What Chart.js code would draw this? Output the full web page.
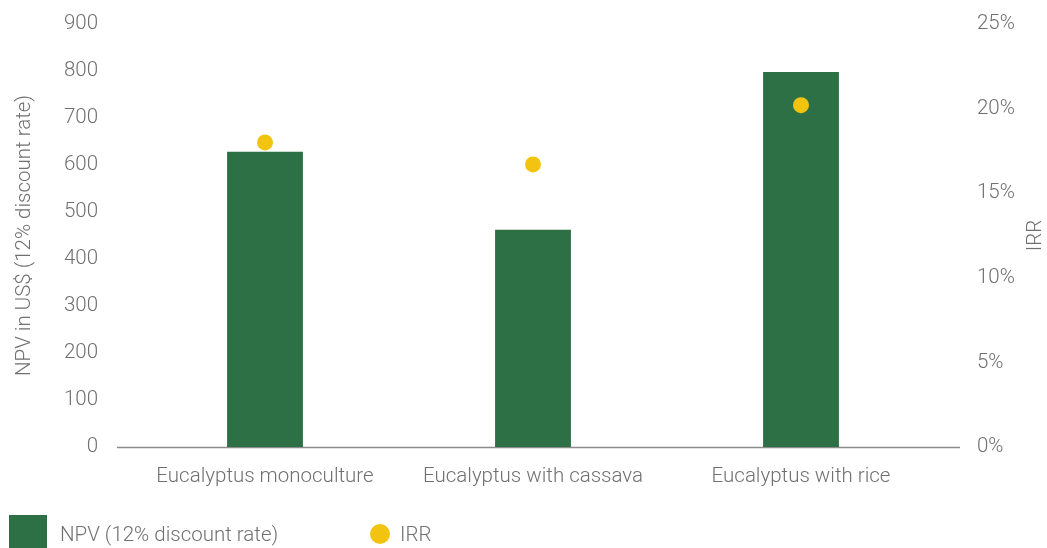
<!DOCTYPE html>
<html>
<head>
<meta charset="utf-8">
<script src="https://cdn.jsdelivr.net/npm/chart.js@4"></script>
<style>
    html, body { margin: 0; padding: 0; background: #fff; }
    #wrap { position: relative; width: 1047px; height: 548px; overflow: hidden; font-family: Roboto, "Open Sans", sans-serif; font-weight: 300; }
    #legend { position: absolute; left: 0; top: 514px; width: 1047px; height: 40px; color: #707070; font-size: 20.5px; }
    .lg-item { position: absolute; top: 0; height: 40px; display: flex; align-items: center; }
    .lg-rect { width: 38px; height: 38px; margin-right: 13px; }
    .lg-dot { width: 20px; height: 20px; border-radius: 50%; margin-right: 10px; }
</style>
</head>
<body>
<div id="wrap">
    <canvas id="chart" width="1047" height="548"></canvas>
    <div id="legend"></div>
</div>
<script>
const categories = ['Eucalyptus monoculture', 'Eucalyptus with cassava', 'Eucalyptus with rice'];
const npvValues = [628, 462, 798];
const irrValues = [18.0, 16.7, 20.2];
const npvTicks = [0, 100, 200, 300, 400, 500, 600, 700, 800, 900];
const irrTicks = [0, 5, 10, 15, 20, 25];

const npvLabel = 'NPV (12% discount rate)';
const irrLabel = 'IRR';
const leftTitle = 'NPV in US$ (12% discount rate)';
const rightTitle = 'IRR';

const green = '#2e7046';
const yellow = '#f2c40f';
const textGrey = '#707070';
const fontFamily = 'Roboto, "Open Sans", sans-serif';

// baseline runs a bit past the plot area on both sides, like the original
const baselinePlugin = {
    id: 'baseline',
    beforeDatasetsDraw(chart) {
        const { ctx, chartArea } = chart;
        const y = Math.round(chart.scales.y.getPixelForValue(0)) + 0.5;
        ctx.save();
        ctx.strokeStyle = '#8c8c8c';
        ctx.lineWidth = 1.5;
        ctx.beginPath();
        ctx.moveTo(chartArea.left - 14, y);
        ctx.lineTo(chartArea.right + 25, y);
        ctx.stroke();
        ctx.restore();
    }
};

// right axis title reads bottom-to-top
const rightTitlePlugin = {
    id: 'rightTitle',
    afterDraw(chart) {
        const { ctx, chartArea } = chart;
        ctx.save();
        ctx.translate(chart.scales.y1.right - 11, (chartArea.top + chartArea.bottom) / 2);
        ctx.rotate(-Math.PI / 2);
        ctx.font = '300 20.5px ' + fontFamily;
        ctx.fillStyle = textGrey;
        ctx.textAlign = 'center';
        ctx.textBaseline = 'middle';
        ctx.fillText(rightTitle, 0, 0);
        ctx.restore();
    }
};

const tickFont = { family: fontFamily, size: 20.5, weight: '300' };

const chart = new Chart(document.getElementById('chart').getContext('2d'), {
    type: 'bar',
    data: {
        labels: categories,
        datasets: [
            {
                type: 'line',
                label: irrLabel,
                data: irrValues,
                yAxisID: 'y1',
                showLine: false,
                pointRadius: 8,
                pointHoverRadius: 8,
                pointBackgroundColor: yellow,
                pointBorderWidth: 0,
                order: 0
            },
            {
                label: npvLabel,
                data: npvValues,
                yAxisID: 'y',
                backgroundColor: green,
                barPercentage: 1,
                categoryPercentage: 0.283,
                order: 1
            }
        ]
    },
    options: {
        responsive: false,
        animation: false,
        layout: { padding: { top: 24, left: 0, right: 0, bottom: 0 } },
        plugins: {
            legend: { display: false },
            tooltip: { enabled: false }
        },
        scales: {
            x: {
                grid: { display: false },
                border: { display: false },
                ticks: { color: textGrey, font: tickFont, padding: 10, maxRotation: 0 },
                afterFit: s => { s.height = 101; }
            },
            y: {
                position: 'left',
                min: 0,
                max: 900,
                afterBuildTicks: s => { s.ticks = npvTicks.map(v => ({ value: v })); },
                grid: { display: false },
                border: { display: false },
                ticks: { color: textGrey, font: tickFont, padding: 25 },
                title: {
                    display: true,
                    text: leftTitle,
                    color: textGrey,
                    font: tickFont,
                    padding: { top: 13, bottom: 0 }
                },
                afterFit: s => { s.width = 131; s.paddingTop = 0; s.paddingBottom = 0; }
            },
            y1: {
                position: 'right',
                min: 0,
                max: 25,
                afterBuildTicks: s => { s.ticks = irrTicks.map(v => ({ value: v })); },
                grid: { display: false },
                border: { display: false },
                ticks: { color: textGrey, font: tickFont, padding: 34, callback: v => v + '%' },
                afterFit: s => { s.width = 112; s.paddingTop = 0; s.paddingBottom = 0; }
            }
        }
    },
    plugins: [baselinePlugin, rightTitlePlugin]
});

// Legend below the chart
const legend = document.getElementById('legend');
const legendItems = [
    { label: npvLabel, cls: 'lg-rect', color: green, left: 9 },
    { label: irrLabel, cls: 'lg-dot', color: yellow, left: 370 }
];
legendItems.forEach(item => {
    const el = document.createElement('div');
    el.className = 'lg-item';
    el.style.left = item.left + 'px';
    const sw = document.createElement('span');
    sw.className = item.cls;
    sw.style.background = item.color;
    const tx = document.createElement('span');
    tx.textContent = item.label;
    el.appendChild(sw);
    el.appendChild(tx);
    legend.appendChild(el);
});
</script>
</body>
</html>
